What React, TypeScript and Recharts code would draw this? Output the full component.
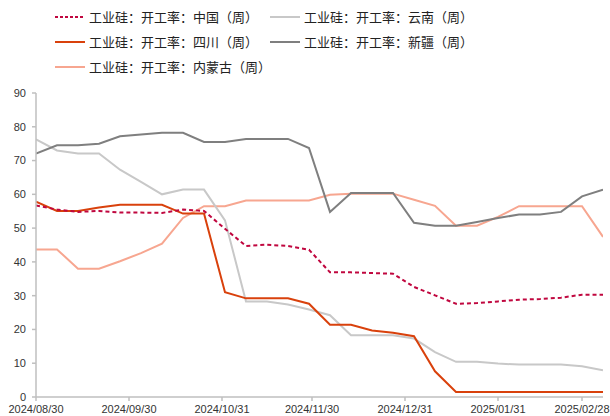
import { LineChart, Line, XAxis, YAxis } from "recharts";

const dates = [
  "2024-08-30", "2024-09-06", "2024-09-13", "2024-09-20", "2024-09-27", "2024-10-04", "2024-10-11",
  "2024-10-18", "2024-10-25", "2024-11-01", "2024-11-08", "2024-11-15", "2024-11-22", "2024-11-29",
  "2024-12-06", "2024-12-13", "2024-12-20", "2024-12-27", "2025-01-03", "2025-01-10", "2025-01-17",
  "2025-01-24", "2025-01-31", "2025-02-07", "2025-02-14", "2025-02-21", "2025-02-28", "2025-03-07",
];

const china = [
  56.7, 55.5, 54.8, 55.1, 54.6, 54.6, 54.5, 55.5, 55.1, 49.8, 44.7, 45.1, 44.7, 43.6,
  36.9, 36.9, 36.7, 36.5, 32.6, 30.1, 27.6, 27.8, 28.3, 28.8, 29.0, 29.4, 30.3, 30.3,
];
const yunnan = [
  76.3, 73.0, 72.1, 72.1, 67.3, 63.7, 60.0, 61.4, 61.4, 52.3, 28.3, 28.3, 27.4, 25.9,
  24.2, 18.3, 18.3, 18.3, 17.3, 13.3, 10.4, 10.4, 9.9, 9.6, 9.6, 9.6, 9.1, 7.9,
];
const sichuan = [
  57.8, 55.1, 55.1, 56.1, 56.9, 56.9, 56.9, 54.3, 54.3, 31.0, 29.2, 29.2, 29.2, 27.6,
  21.4, 21.4, 19.7, 19.0, 18.0, 7.6, 1.5, 1.5, 1.5, 1.5, 1.5, 1.5, 1.5, 1.5,
];
const xinjiang = [
  72.1, 74.5, 74.5, 75.0, 77.2, 77.7, 78.2, 78.2, 75.5, 75.5, 76.4, 76.4, 76.4, 73.7,
  54.8, 60.4, 60.4, 60.4, 51.6, 50.7, 50.7, 51.8, 53.0, 54.0, 54.0, 54.8, 59.4, 61.4,
];
const neimenggu = [
  43.7, 43.7, 38.0, 38.0, 40.2, 42.6, 45.4, 53.0, 56.5, 56.5, 58.2, 58.2, 58.2, 58.2,
  59.9, 60.2, 60.2, 60.2, 58.4, 56.6, 50.7, 50.7, 53.3, 56.5, 56.5, 56.5, 56.5, 47.4,
];

const xTicks = ["2024-08-30", "2024-09-30", "2024-10-31", "2024-11-30", "2024-12-31", "2025-01-31", "2025-02-28"];
const yTicks = [0, 10, 20, 30, 40, 50, 60, 70, 80, 90];

const toTime = (s: string) => new Date(s + "T00:00:00Z").getTime();

const data = dates.map((d, i) => ({
  t: toTime(d),
  china: china[i],
  yunnan: yunnan[i],
  sichuan: sichuan[i],
  xinjiang: xinjiang[i],
  neimenggu: neimenggu[i],
}));

const fmtDate = (v: number) => {
  const d = new Date(v);
  const m = String(d.getUTCMonth() + 1).padStart(2, "0");
  const day = String(d.getUTCDate()).padStart(2, "0");
  return `${d.getUTCFullYear()}/${m}/${day}`;
};

const legendItems = [
  { label: "工业硅：开工率：中国（周）", color: "#C0073F", dash: true, x: 55, y: 17 },
  { label: "工业硅：开工率：云南（周）", color: "#C8C8C8", dash: false, x: 270, y: 17 },
  { label: "工业硅：开工率：四川（周）", color: "#D9410C", dash: false, x: 55, y: 42 },
  { label: "工业硅：开工率：新疆（周）", color: "#7F7F7F", dash: false, x: 270, y: 42 },
  { label: "工业硅：开工率：内蒙古（周）", color: "#F7A690", dash: false, x: 55, y: 67 },
];

const axisColor = "#BFBFBF";
const tickStyle = { fill: "#333", fontSize: 11, fontFamily: "'Liberation Sans', Arial, sans-serif" };

export default function App() {
  return (
    <div style={{ position: "absolute", left: 0, top: 0, width: 610, height: 416, background: "#fff" }}>
      <svg width={610} height={80} style={{ position: "absolute", left: 0, top: 0 }}>
        {legendItems.map((it) => (
          <g key={it.label}>
            <line
              x1={it.x}
              x2={it.x + 30}
              y1={it.y}
              y2={it.y}
              stroke={it.color}
              strokeWidth={2}
              strokeDasharray={it.dash ? "3 2" : undefined}
            />
            <text
              x={it.x + 34}
              y={it.y + 4.5}
              fontSize={13}
              fill="#222"
              fontFamily="'Noto Sans CJK SC', sans-serif"
            >
              {it.label}
            </text>
          </g>
        ))}
      </svg>
      <LineChart
        width={610}
        height={416}
        data={data}
        margin={{ top: 93, right: 7, left: 0, bottom: 0 }}
        style={{ position: "absolute", left: 0, top: 0 }}
      >
        <XAxis
          dataKey="t"
          type="number"
          scale="time"
          domain={[toTime(dates[0]), toTime(dates[dates.length - 1])]}
          ticks={xTicks.map(toTime)}
          tickFormatter={fmtDate}
          tick={tickStyle}
          stroke={axisColor}
          strokeWidth={1.5}
          tickSize={4}
          tickMargin={4}
          height={19}
          interval={0}
          allowDataOverflow
        />
        <YAxis
          domain={[0, 90]}
          ticks={yTicks}
          tick={tickStyle}
          stroke={axisColor}
          strokeWidth={1.5}
          tickSize={4}
          tickMargin={6}
          width={36}
          interval={0}
        />
        <Line dataKey="neimenggu" stroke="#F7A690" strokeWidth={2} dot={false} isAnimationActive={false} />
        <Line dataKey="yunnan" stroke="#C8C8C8" strokeWidth={2} dot={false} isAnimationActive={false} />
        <Line dataKey="xinjiang" stroke="#7F7F7F" strokeWidth={2} dot={false} isAnimationActive={false} />
        <Line dataKey="sichuan" stroke="#D9410C" strokeWidth={2} dot={false} isAnimationActive={false} />
        <Line
          dataKey="china"
          stroke="#C0073F"
          strokeWidth={2}
          strokeDasharray="4 3"
          dot={false}
          isAnimationActive={false}
        />
      </LineChart>
    </div>
  );
}
